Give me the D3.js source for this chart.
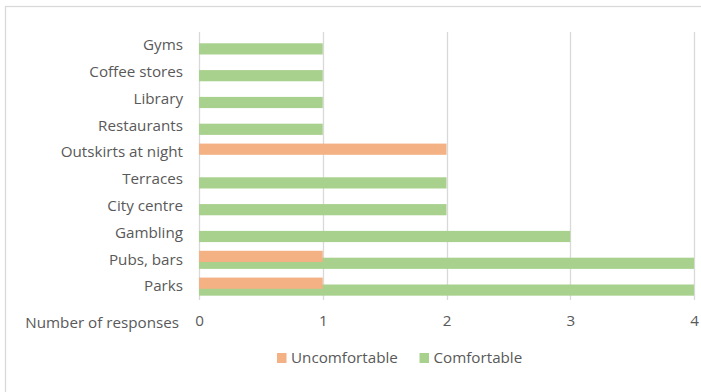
<!DOCTYPE html>
<html>
<head>
<meta charset="utf-8">
<script src="https://cdn.jsdelivr.net/npm/d3@7"></script>
<style>
  html, body { margin: 0; padding: 0; background: #fff; overflow: hidden; }
  svg { display: block; }
  text { font-family: "Open Sans", "Noto Sans", sans-serif; fill: #595959; }
</style>
</head>
<body>
<svg id="chart" width="701" height="392"></svg>
<script>
// Places, listed top to bottom
const categories = ["Gyms", "Coffee stores", "Library", "Restaurants", "Outskirts at night",
                    "Terraces", "City centre", "Gambling", "Pubs, bars", "Parks"];
const seriesNames = ["Uncomfortable", "Comfortable"];
const uncomfortable = [0, 0, 0, 0, 2, 0, 0, 0, 1, 1];
const comfortable   = [1, 1, 1, 1, 0, 2, 2, 3, 4, 4];
const tickValues = [0, 1, 2, 3, 4];
const axisTitle = "Number of responses";
const colors = { Uncomfortable: "#F4B183", Comfortable: "#A9D18E" };

const FONT = "'Open Sans', 'Noto Sans', sans-serif";
const FS = 15.2;
const TEXT = "#595959";

const svg = d3.select("#chart");

// Chart area frame (runs past the right and bottom edges)
svg.append("rect")
  .attr("x", 5.5).attr("y", 6.5)
  .attr("width", 900).attr("height", 600)
  .attr("fill", "none").attr("stroke", "#d9d9d9").attr("stroke-width", 1.3);

const x = d3.scaleLinear().domain([0, 4]).range([199, 694]);
const y = d3.scaleBand().domain(categories).range([32, 300]).padding(0);
const bw = y.bandwidth();
const sub = d3.scalePoint().domain(seriesNames).range([bw * 0.373, bw * 0.63]);
const barH = bw * 0.418;

// Vertical gridlines
svg.append("g").selectAll("line")
  .data(tickValues)
  .join("line")
  .attr("x1", d => Math.round(x(d)) + 0.5).attr("x2", d => Math.round(x(d)) + 0.5)
  .attr("y1", 32).attr("y2", 300)
  .attr("stroke", "#d9d9d9").attr("stroke-width", 1.3);

const rows = categories.map((c, i) => ({
  cat: c,
  values: [
    { series: "Uncomfortable", v: uncomfortable[i] },
    { series: "Comfortable", v: comfortable[i] }
  ]
}));

// Comfortable drawn first so Uncomfortable sits on top where they overlap
const drawOrder = ["Comfortable", "Uncomfortable"];
const barsG = svg.append("g");
drawOrder.forEach(s => {
  barsG.selectAll("rect." + s)
    .data(rows.map(r => ({ cat: r.cat, ...r.values.find(v => v.series === s) })).filter(d => d.v > 0))
    .join("rect")
    .attr("class", s)
    .attr("x", x(0))
    .attr("width", d => x(d.v) - x(0))
    .attr("y", d => y(d.cat) + sub(s) - barH / 2)
    .attr("height", barH)
    .attr("fill", colors[s]);
});

// Category labels
const yAxis = d3.axisLeft(y).tickSize(0).tickPadding(0);
const yg = svg.append("g").attr("transform", "translate(183,0)").call(yAxis);
yg.select(".domain").remove();
yg.selectAll("text").attr("font-size", FS).style("font-family", FONT).attr("fill", TEXT);

// Value axis labels
const xAxis = d3.axisBottom(x).tickValues(tickValues).tickSize(0).tickPadding(0).tickFormat(d3.format("d"));
const xg = svg.append("g").attr("transform", "translate(0,315)").call(xAxis);
xg.select(".domain").remove();
xg.selectAll("text").attr("font-size", FS).style("font-family", FONT).attr("fill", TEXT);

svg.append("text")
  .attr("x", 179).attr("y", 323).attr("dy", "0.35em")
  .attr("text-anchor", "end").attr("font-size", FS)
  .text(axisTitle);

// Legend
const legendItems = [
  { name: "Uncomfortable", x: 277 },
  { name: "Comfortable", x: 419.5 }
];
const lg = svg.append("g").selectAll("g").data(legendItems).join("g")
  .attr("transform", d => `translate(${d.x},358)`);
lg.append("rect").attr("x", 0).attr("y", -5).attr("width", 9.5).attr("height", 10)
  .attr("fill", d => colors[d.name]);
lg.append("text").attr("x", 14).attr("dy", "0.35em").attr("font-size", FS).text(d => d.name);
</script>
</body>
</html>
